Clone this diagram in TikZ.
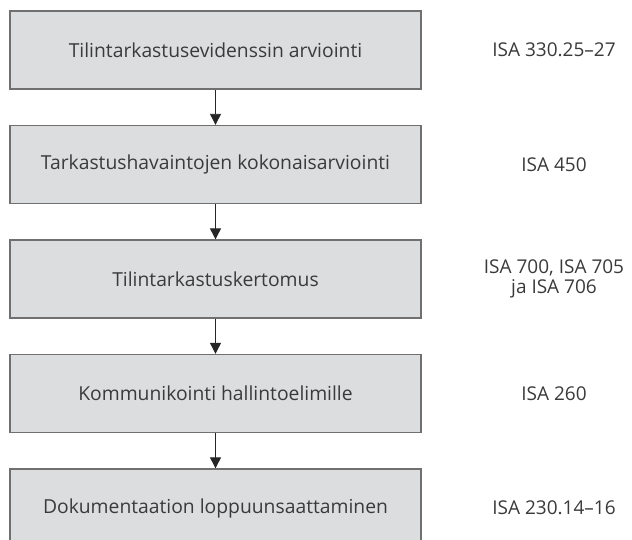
\documentclass[tikz,border=0pt]{standalone}
\usepackage{fontspec}
\setmainfont{Open Sans}
\usetikzlibrary{positioning,arrows.meta}
\definecolor{boxgray}{HTML}{DCDDDF}
\definecolor{edgegray}{HTML}{707070}
\definecolor{inkgray}{HTML}{3A3A3A}
\tikzset{
	stage/.style={draw=edgegray, fill=boxgray, line width=1.3pt, minimum width=411pt, minimum height=78pt, inner sep=0pt, text=inkgray, font=\fontsize{19.3}{22}\selectfont},
	isaref/.style={text=inkgray, align=center, inner sep=0pt, font=\fontsize{19}{20}\selectfont},
	flow/.style={-{Triangle[length=11pt,width=11pt]}, line width=.9pt, draw=black!85}
}
\begin{document}
\begin{tikzpicture}
\useasboundingbox (0,0) rectangle (632pt,-540pt);
\coordinate (col) at (554pt,0);
\foreach \i/\txt/\isa in {1/Tilintarkastusevidenssin arviointi/ISA 330.25--27,
	2/Tarkastushavaintojen kokonaisarviointi/ISA 450,
	3/Tilintarkastuskertomus/{ISA 700, ISA 705\\ja ISA 706},
	4/Kommunikointi hallintoelimille/ISA 260,
	5/Dokumentaation loppuunsaattaminen/ISA 230.14--16}
{
	\node[stage] (s\i) at (215.5pt,{-50pt-(\i-1)*114.5pt}) {\txt};
	\node[isaref] (r\i) at (col |- s\i) {\isa};
}
\foreach \i/\j in {1/2,2/3,3/4,4/5}
{
	\draw[flow] (s\i) -- (s\j);
}
\end{tikzpicture}
\end{document}
